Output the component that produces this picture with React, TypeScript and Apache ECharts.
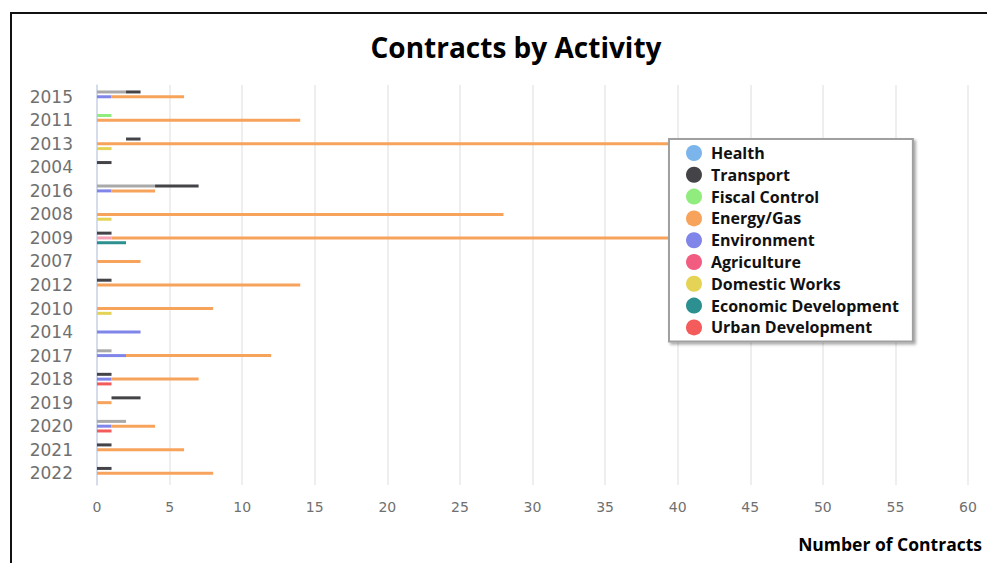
import React, { useEffect, useRef } from "react";
import * as echarts from "echarts";

// Categories, top to bottom as in the reference
const years = ["2015", "2011", "2013", "2004", "2016", "2008", "2009", "2007", "2012", "2010", "2014", "2017", "2018", "2019", "2020", "2021", "2022"];

// Upper row of each year (empty offset before the bars, then segments)
const gapA = [0, 0, 2, 0, 0, 0, 0, 0, 0, 0, 0, 0, 0, 1, 0, 0, 0];
const fiscalControl = [0, 1, 0, 0, 0, 0, 0, 0, 0, 0, 0, 0, 0, 0, 0, 0, 0];
const health = [2, 0, 0, 0, 4, 0, 0, 0, 0, 0, 0, 1, 0, 0, 2, 0, 0];
const transport = [1, 0, 1, 1, 3, 0, 1, 0, 1, 0, 0, 0, 1, 2, 0, 1, 1];

// Middle row
const agriculture = [0, 0, 0, 0, 0, 0, 1, 0, 0, 0, 0, 0, 0, 0, 0, 0, 0];
const environment = [1, 0, 0, 0, 1, 0, 0, 0, 0, 0, 3, 2, 1, 0, 1, 0, 0];
const energyGas = [5, 14, 54, 0, 3, 28, 46, 3, 14, 8, 0, 10, 6, 1, 3, 6, 8];

// Lower row
const domesticWorks = [0, 0, 1, 0, 0, 1, 0, 0, 0, 1, 0, 0, 0, 0, 0, 0, 0];
const economicDevelopment = [0, 0, 0, 0, 0, 0, 2, 0, 0, 0, 0, 0, 0, 0, 0, 0, 0];
const urbanDevelopment = [0, 0, 0, 0, 0, 0, 0, 0, 0, 0, 0, 0, 1, 0, 1, 0, 0];

const xTicks = { min: 0, max: 60, interval: 5 };

const legendNames = ["Health", "Transport", "Fiscal Control", "Energy/Gas", "Environment", "Agriculture", "Domestic Works", "Economic Development", "Urban Development"];
const legendColors = ["#7cb5ec", "#434348", "#90ed7d", "#f7a35c", "#8085e9", "#f15c80", "#e4d354", "#2b908f", "#f45b5b"];

const FONT = "'Open Sans', 'Noto Sans', sans-serif";

function bar(name: string, data: number[], stack: string, color: string, extra: any = {}) {
  return {
    type: "bar",
    name,
    data,
    stack,
    barWidth: 3,
    barGap: "60%",
    itemStyle: { color },
    emphasis: { disabled: true },
    ...extra,
  };
}

export default function App() {
  const ref = useRef<HTMLDivElement>(null);
  useEffect(() => {
    const chart = echarts.init(ref.current!, null, { renderer: "svg" });
    const option: any = {
      animation: false,
      backgroundColor: "#ffffff",
      grid: { left: 97, right: 19, top: 85, bottom: 78, containLabel: false },
      xAxis: {
        type: "value",
        min: xTicks.min,
        max: xTicks.max,
        interval: xTicks.interval,
        axisLine: { show: false },
        axisTick: { show: false },
        axisLabel: { color: "#707070", fontFamily: "DejaVu Sans", fontSize: 14, margin: 15 },
        splitLine: { lineStyle: { color: "#e8e8e8", width: 1.5 } },
      },
      yAxis: {
        type: "category",
        data: years,
        inverse: true,
        axisLine: { lineStyle: { color: "#ccd6eb", width: 1.5 } },
        axisTick: { show: false },
        axisLabel: { color: "#707070", fontFamily: "DejaVu Sans", fontSize: 17, margin: 24 },
        splitLine: { show: false },
      },
      legend: {
        orient: "vertical",
        left: 669,
        top: 139,
        padding: [6, 14, 6, 17],
        itemWidth: 24,
        itemHeight: 16,
        itemGap: 5.8,
        icon: "circle",
        backgroundColor: "#ffffff",
        borderColor: "#a0a0a0",
        borderWidth: 2,
        shadowColor: "rgba(0,0,0,0.35)",
        shadowBlur: 3,
        shadowOffsetX: 2,
        shadowOffsetY: 2,
        selectedMode: false,
        textStyle: { color: "#111111", fontFamily: FONT, fontWeight: "bold", fontSize: 16 },
        data: legendNames.map((n, i) => ({ name: n, itemStyle: { color: legendColors[i] } })),
      },
      graphic: [
        {
          type: "rect",
          shape: { x: 11, y: 13, width: 1100, height: 700 },
          style: { fill: "none", stroke: "#111111", lineWidth: 2 },
          silent: true,
        },
        {
          type: "text",
          x: 516,
          y: 47,
          style: {
            text: "Contracts by Activity",
            fill: "#000000",
            font: `bold 28px ${FONT}`,
            textAlign: "center",
            textVerticalAlign: "middle",
          },
        },
        {
          type: "text",
          x: 982,
          y: 544,
          style: {
            text: "Number of Contracts",
            fill: "#000000",
            font: `bold 17.5px ${FONT}`,
            textAlign: "right",
            textVerticalAlign: "middle",
          },
        },
      ],
      series: [
        bar("gapA", gapA, "A", "rgba(0,0,0,0)", { silent: true }),
        bar("Fiscal Control", fiscalControl, "A", "#90ed7d"),
        bar("Health", health, "A", "#a9a9a9"),
        bar("Transport", transport, "A", "#434348"),
        bar("Agriculture", agriculture, "B", "#f7a1b5"),
        bar("Environment", environment, "B", "#8085e9"),
        bar("Energy/Gas", energyGas, "B", "#f7a35c"),
        bar("Domestic Works", domesticWorks, "C", "#e4d354"),
        bar("Economic Development", economicDevelopment, "C", "#2b908f"),
        bar("Urban Development", urbanDevelopment, "C", "#f45b5b"),
      ],
    };
    chart.setOption(option);
    return () => chart.dispose();
  }, []);
  return (
    <div
      ref={ref}
      style={{ position: "fixed", left: 0, top: 0, width: 987, height: 563, background: "#ffffff" }}
    />
  );
}
